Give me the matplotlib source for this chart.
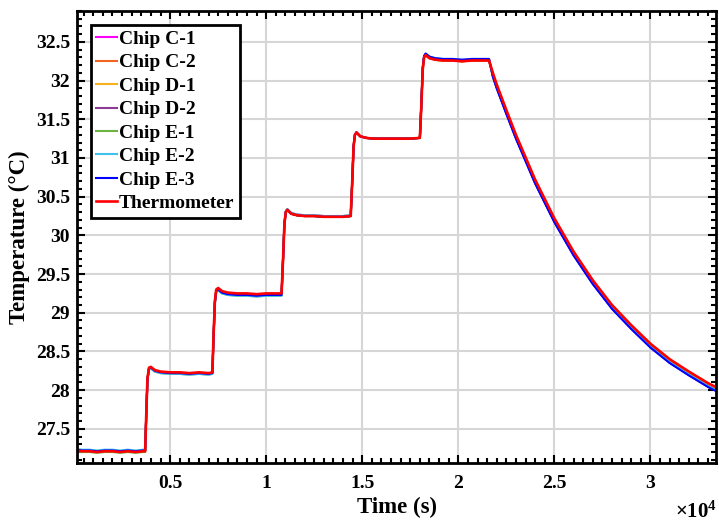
import numpy as np
import matplotlib
matplotlib.use("Agg")
import matplotlib.pyplot as plt
from matplotlib.ticker import MultipleLocator, FuncFormatter

# ---------------- data ----------------
time_s = [150, 400, 800, 1200, 1600, 2000, 2400, 2800, 3200, 3600, 3700,
          3760, 3820, 3900, 4000, 4200, 4500, 5000, 5500, 6000, 6500, 7000, 7200,
          7260, 7330, 7400, 7500, 7700, 8000, 8500, 9000, 9500, 10000, 10500, 10800,
          10880, 10950, 11020, 11100, 11300, 11600, 12000, 12500, 13000, 13500, 14000, 14400,
          14480, 14550, 14620, 14700, 14900, 15200, 15600, 16000, 16500, 17000, 17500, 18000,
          18080, 18150, 18220, 18300, 18500, 18800, 19200, 19700, 20200, 20700, 21200, 21600,
          21800, 22000, 22500, 23000, 24000, 25000, 26000, 27000, 28000, 29000, 30000,
          31000, 32000, 33000, 33400]

thermometer = [27.22, 27.21, 27.21, 27.20, 27.21, 27.21, 27.20, 27.21, 27.20, 27.21, 27.21,
               27.70, 28.15, 28.29, 28.30, 28.26, 28.24, 28.23, 28.23, 28.22, 28.23, 28.22, 28.23,
               28.70, 29.15, 29.30, 29.32, 29.28, 29.26, 29.25, 29.25, 29.24, 29.25, 29.25, 29.25,
               29.70, 30.15, 30.30, 30.33, 30.28, 30.26, 30.25, 30.25, 30.24, 30.24, 30.24, 30.25,
               30.70, 31.15, 31.30, 31.33, 31.28, 31.26, 31.25, 31.25, 31.25, 31.25, 31.25, 31.26,
               31.70, 32.15, 32.30, 32.33, 32.29, 32.27, 32.26, 32.26, 32.25, 32.26, 32.26, 32.26,
               32.10, 31.95, 31.62, 31.30, 30.72, 30.22, 29.79, 29.42, 29.10, 28.84, 28.60,
               28.40, 28.24, 28.09, 28.04]

# phase boundaries (s): baseline | step1..step5 | cooling
phase_edges = [3730, 7240, 10860, 14460, 18060, 21650]

# per-phase deviation of each chip from the thermometer (degC)
dev_c1 = [0.01, -0.01, -0.01, 0.00, 0.00, 0.01, -0.045]
dev_c2 = [0.00, -0.01, -0.01, 0.00, 0.00, 0.00, -0.035]
dev_d1 = [0.00, -0.01, -0.01, 0.00, 0.00, 0.00, -0.035]
dev_d2 = [0.01, -0.01, -0.01, 0.01, 0.00, 0.01, -0.040]
dev_e1 = [-0.01, -0.02, -0.03, 0.00, 0.00, 0.00, -0.035]
dev_e2 = [0.02, -0.02, -0.03, 0.01, 0.00, 0.02, -0.040]
dev_e3 = [0.01, -0.01, -0.02, 0.00, 0.00, 0.02, -0.050]

labels = ["Chip C-1", "Chip C-2", "Chip D-1", "Chip D-2",
          "Chip E-1", "Chip E-2", "Chip E-3", "Thermometer"]
colors = ["#ff00ff", "#f26522", "#f5b21f", "#8e3b96",
          "#6cb33f", "#3fc3ee", "#0000ff", "#ff0000"]

# ---------------- plotting ----------------
plt.rcParams["font.family"] = ["Liberation Serif", "DejaVu Serif"]
plt.rcParams["font.weight"] = "bold"
plt.rcParams["mathtext.fontset"] = "custom"
plt.rcParams["mathtext.rm"] = "Liberation Serif:bold"
plt.rcParams["mathtext.it"] = "Liberation Serif:bold"
plt.rcParams["mathtext.bf"] = "Liberation Serif:bold"

fig = plt.figure(figsize=(7.19, 5.23), dpi=100)
ax = fig.add_axes([0.107, 0.115, 0.889, 0.864])

t = np.array(time_s, dtype=float)
base = np.array(thermometer)
phase = np.searchsorted(phase_edges, t)

devs = [dev_c1, dev_c2, dev_d1, dev_d2, dev_e1, dev_e2, dev_e3]
for d, lab, col in zip(devs, labels[:-1], colors[:-1]):
    ax.plot(t, base + np.array(d)[phase], color=col, lw=1.5, label=lab)
ax.plot(t, base, color=colors[-1], lw=1.9, label=labels[-1])

ax.set_xlim(150, 33420)
ax.set_ylim(27.06, 32.9)
ax.xaxis.set_major_locator(MultipleLocator(5000))
ax.xaxis.set_minor_locator(MultipleLocator(500))
ax.yaxis.set_major_locator(MultipleLocator(0.5))
ax.yaxis.set_minor_locator(MultipleLocator(0.1))
ax.xaxis.set_major_formatter(FuncFormatter(lambda v, p: f"{v/1e4:g}"))
ax.yaxis.set_major_formatter(FuncFormatter(lambda v, p: f"{v:g}"))

ax.tick_params(which="both", direction="in", top=True, right=True,
               width=1.5, labelsize=14)
ax.tick_params(which="major", length=6)
ax.tick_params(which="minor", length=3.5)
ax.tick_params(axis="x", pad=9)
ax.tick_params(axis="y", pad=5)
for s in ax.spines.values():
    s.set_linewidth(2)
ax.grid(True, which="major", color="#d6d6d6", lw=1.5)
ax.set_axisbelow(True)

ax.set_xlabel("Time (s)", fontsize=16.5, fontweight="bold", labelpad=3)
ax.set_ylabel("Temperature (\u00b0C)", fontsize=16.5, fontweight="bold", labelpad=4)
fig.text(0.997, 0.0, r"$\times10^{4}$", ha="right", va="bottom", fontsize=15)

leg = ax.legend(loc="upper left", fontsize=14, fancybox=False, framealpha=1,
                edgecolor="black", handlelength=1.05, handletextpad=0.12,
                labelspacing=0.3, borderpad=0.3, borderaxespad=0.7)
leg.get_frame().set_linewidth(2)
for txt in leg.get_texts():
    txt.set_fontweight("bold")

fig.savefig("out.png", dpi=100)
